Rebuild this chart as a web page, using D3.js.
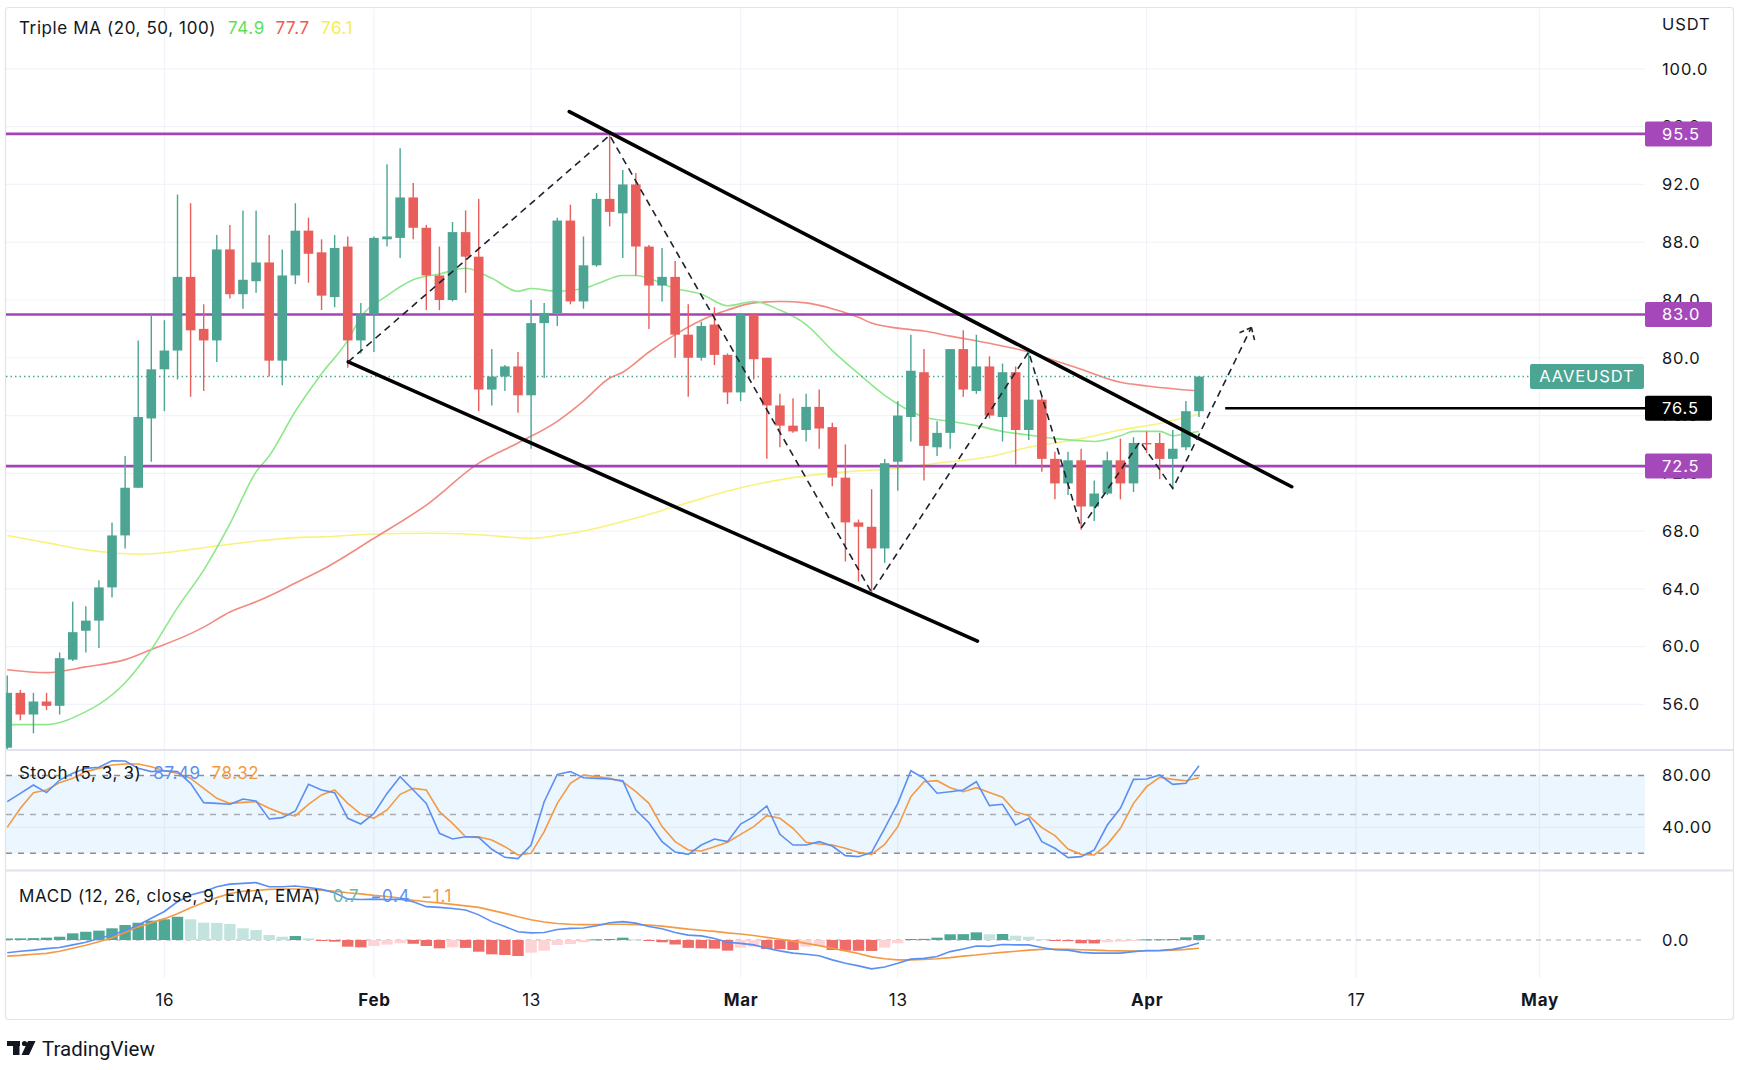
<!DOCTYPE html>
<html>
<head>
<meta charset="utf-8">
<script src="https://cdn.jsdelivr.net/npm/d3@7"></script>
<style>
  body { margin: 0; background: #fff; }
  svg { display: block; font-family: Inter, Roboto, "Noto Sans", sans-serif; }
</style>
</head>
<body>
<svg id="chart" width="1742" height="1070"></svg>
<script>
// ---- data ----
const firstDay = '2023-01-04', lastDay = '2023-04-05';

const opens = [
  53.0, 56.8, 55.3, 56.2, 55.9, 59.1, 61.1, 61.8, 64.1, 67.7, 71.0, 75.8, 79.2, 80.5, 85.6, 82.0, 81.2, 87.5, 84.4, 85.3, 86.6, 79.8, 85.7, 88.8, 87.3, 84.2, 87.7, 81.2,
  83.0, 88.2, 88.3, 91.1, 89.0, 85.7, 84.0, 88.7, 87.0, 77.8, 78.7, 79.4, 77.4, 82.4, 83.1, 89.5, 83.9, 86.4, 91.0, 90.0, 92.0, 87.7, 85.0, 85.6, 81.6, 80.0, 82.3, 80.2,
  77.6, 83.0, 80.0, 76.7, 75.3, 75.0, 76.6, 75.2, 71.7, 68.6, 68.3, 66.8, 72.8, 75.9, 79.0, 73.8, 74.8, 80.6, 77.7, 79.4, 75.9, 79.0, 75.0, 77.1, 73.0, 71.3, 72.9, 69.7, 70.6, 72.9, 71.3,
  74.1, 74.1, 73.0, 73.8, 76.3
];
const highs = [
  58.0, 57.0, 56.8, 56.8, 59.6, 63.1, 62.8, 64.6, 68.6, 73.2, 81.2, 83.0, 82.6, 91.3, 90.7, 83.7, 88.5, 89.2, 90.2, 90.2, 88.5, 87.5, 90.7, 89.7, 88.2, 88.5, 88.4, 83.8,
  88.4, 93.4, 94.5, 92.1, 89.2, 87.7, 89.4, 90.2, 91.0, 80.6, 79.5, 80.4, 84.0, 83.8, 89.7, 90.6, 88.4, 91.4, 95.5, 93.0, 92.8, 87.8, 87.6, 86.7, 83.7, 82.5, 83.5, 80.3,
  83.1, 83.1, 80.0, 77.5, 77.2, 77.5, 77.8, 75.5, 74.0, 68.8, 70.9, 73.0, 77.0, 81.6, 80.6, 75.6, 80.6, 81.9, 81.6, 80.1, 79.6, 79.4, 80.4, 77.3, 73.5, 73.5, 73.7, 71.5, 73.5, 74.4, 74.5,
  74.9, 74.8, 75.0, 77.0, 78.7
];
const lows = [
  52.5, 54.9, 54.0, 55.6, 55.3, 59.0, 59.6, 59.9, 63.4, 66.8, 71.0, 72.8, 76.3, 78.5, 77.3, 77.7, 79.7, 84.1, 83.4, 84.5, 78.7, 78.1, 85.1, 85.2, 83.3, 83.5, 79.3, 80.3,
  80.4, 87.7, 86.9, 88.2, 83.3, 83.3, 83.9, 84.5, 76.3, 76.7, 77.7, 76.2, 73.7, 78.6, 82.2, 83.7, 83.4, 86.3, 89.1, 86.9, 85.7, 82.0, 83.9, 80.0, 77.3, 79.8, 79.5, 76.8,
  77.0, 78.5, 73.0, 73.8, 74.8, 74.2, 73.7, 71.1, 65.9, 64.5, 63.7, 65.8, 70.8, 74.2, 71.5, 73.2, 73.7, 77.3, 77.5, 75.8, 74.2, 72.6, 74.3, 72.1, 70.2, 70.5, 68.1, 68.7, 70.5, 70.2, 70.7,
  73.4, 71.6, 71.0, 73.6, 75.9
];
const closes = [
  56.8, 55.3, 56.2, 55.9, 59.2, 61.0, 61.8, 64.1, 67.7, 71.0, 75.9, 79.2, 80.5, 85.6, 81.9, 81.2, 87.5, 84.4, 85.4, 86.6, 79.8, 85.7, 88.8, 87.2, 84.3, 87.6, 81.2, 83.0,
  88.3, 88.4, 91.1, 89.0, 85.7, 84.0, 88.7, 87.0, 77.8, 78.7, 79.4, 77.4, 82.4, 83.1, 89.5, 83.9, 86.4, 91.0, 90.1, 92.0, 87.7, 85.0, 85.6, 81.6, 80.0, 82.2, 80.2, 77.6,
  83.0, 79.9, 76.7, 75.3, 74.9, 76.6, 75.1, 71.7, 68.6, 68.3, 66.8, 72.7, 76.0, 79.1, 73.9, 74.8, 80.6, 77.8, 79.4, 76.0, 79.0, 75.0, 77.1, 73.0, 71.3, 72.9, 69.7, 70.6, 72.9, 71.3, 74.1,
  74.0, 73.0, 73.7, 76.3, 78.7
];

// moving averages, sampled points [date, value]
const ma20 = [
  ['2023-01-04', 54.6], ['2023-01-07', 54.6], ['2023-01-10', 55.5], ['2023-01-11', 56.0], ['2023-01-13', 57.5],
  ['2023-01-15', 59.8], ['2023-01-17', 62.7], ['2023-01-19', 65.3], ['2023-01-21', 68.5], ['2023-01-23', 72.1],
  ['2023-01-24', 73.2], ['2023-01-26', 76.3], ['2023-01-28', 78.9], ['2023-01-30', 81.2], ['2023-01-31', 82.8],
  ['2023-02-02', 84.3], ['2023-02-04', 85.4], ['2023-02-06', 85.8], ['2023-02-08', 86.2], ['2023-02-10', 85.5],
  ['2023-02-12', 84.6], ['2023-02-13', 84.8], ['2023-02-15', 84.6], ['2023-02-17', 84.8], ['2023-02-18', 85.1],
  ['2023-02-20', 85.7], ['2023-02-21', 85.7], ['2023-02-24', 84.8], ['2023-02-26', 84.4], ['2023-02-28', 83.6],
  ['2023-03-02', 83.9], ['2023-03-04', 83.3], ['2023-03-06', 82.3], ['2023-03-08', 80.5], ['2023-03-10', 78.9],
  ['2023-03-12', 77.4], ['2023-03-13', 76.8], ['2023-03-15', 75.9], ['2023-03-17', 75.6], ['2023-03-19', 75.3],
  ['2023-03-21', 74.9], ['2023-03-23', 74.65], ['2023-03-25', 74.4], ['2023-03-27', 74.25], ['2023-03-28', 74.2],
  ['2023-03-30', 74.6], ['2023-03-31', 74.9], ['2023-04-02', 74.9], ['2023-04-03', 74.6], ['2023-04-04', 74.75],
  ['2023-04-05', 74.9]
];
const ma50 = [
  ['2023-01-04', 58.4], ['2023-01-07', 58.2], ['2023-01-10', 58.6], ['2023-01-13', 59.1], ['2023-01-15', 59.8],
  ['2023-01-18', 60.9], ['2023-01-19', 61.35], ['2023-01-21', 62.4], ['2023-01-23', 63.1], ['2023-01-24', 63.5],
  ['2023-01-26', 64.4], ['2023-01-28', 65.3], ['2023-02-01', 67.5], ['2023-02-05', 69.8], ['2023-02-09', 72.7],
  ['2023-02-12', 74.1], ['2023-02-15', 75.6], ['2023-02-17', 77.0], ['2023-02-19', 78.6], ['2023-02-20', 79.0],
  ['2023-02-22', 80.4], ['2023-02-24', 81.6], ['2023-02-26', 82.6], ['2023-02-28', 83.3], ['2023-03-02', 83.8],
  ['2023-03-04', 83.9], ['2023-03-06', 83.8], ['2023-03-08', 83.4], ['2023-03-10', 82.8], ['2023-03-11', 82.4],
  ['2023-03-13', 82.05], ['2023-03-15', 81.85], ['2023-03-17', 81.5], ['2023-03-20', 81.0], ['2023-03-23', 80.4],
  ['2023-03-25', 79.8], ['2023-03-27', 79.2], ['2023-03-30', 78.3], ['2023-04-01', 78.05], ['2023-04-05', 77.7]
];
const ma100 = [
  ['2023-01-04', 67.7], ['2023-01-07', 67.2], ['2023-01-10', 66.7], ['2023-01-12', 66.5], ['2023-01-14', 66.4],
  ['2023-01-16', 66.5], ['2023-01-19', 66.85], ['2023-01-23', 67.3], ['2023-01-26', 67.55], ['2023-01-28', 67.6],
  ['2023-02-01', 67.8], ['2023-02-05', 67.85], ['2023-02-09', 67.75], ['2023-02-13', 67.5], ['2023-02-15', 67.7],
  ['2023-02-18', 68.2], ['2023-02-21', 68.9], ['2023-02-24', 69.7], ['2023-03-01', 71.0], ['2023-03-05', 71.7],
  ['2023-03-09', 72.1], ['2023-03-13', 72.35], ['2023-03-16', 72.7], ['2023-03-20', 73.15], ['2023-03-23', 73.8],
  ['2023-03-27', 74.4], ['2023-03-30', 75.0], ['2023-04-02', 75.45], ['2023-04-05', 76.1]
];

const stochK = [
  59.8, 66.2, 72.7, 66.8, 76.5, 81.7, 85.5, 86.3, 91.4, 91.2, 85.5, 83.0, 83.7, 83.0, 74.0, 59.1, 58.5, 57.8, 61.9, 60.3, 46.5, 47.5, 52.6, 73.2, 68.8, 66.8, 47.0, 42.6,
  50.8, 66.2, 79.1, 68.8, 58.5, 35.4, 31.0, 32.8, 32.3, 23.1, 16.9, 15.9, 26.4, 59.8, 80.9, 83.0, 78.3, 77.8, 77.3, 76.0, 53.4, 43.6, 29.0, 21.0, 19.2, 26.4, 31.0, 29.0,
  42.6, 48.3, 56.5, 34.6, 26.4, 26.4, 29.0, 25.6, 18.2, 17.4, 20.8, 39.3, 58.5, 83.7, 77.8, 66.3, 67.5, 68.8, 75.2, 56.8, 57.8, 41.8, 47.0, 29.0, 23.9, 16.7, 17.4, 22.6, 41.8, 54.7, 77.0,
  77.3, 80.4, 73.2, 74.0, 87.5
];
const stochD = [
  40.0, 54.7, 66.8, 68.8, 74.5, 77.8, 83.0, 85.5, 88.1, 88.9, 88.9, 86.8, 83.7, 81.7, 77.8, 70.1, 62.4, 58.5, 59.3, 59.8, 54.7, 50.8, 48.8, 57.8, 65.0, 68.8, 58.5, 50.3,
  47.0, 53.4, 65.5, 70.1, 68.8, 52.1, 43.1, 32.8, 32.8, 30.3, 25.1, 18.7, 20.0, 36.7, 58.5, 74.0, 80.4, 79.1, 77.8, 75.2, 67.5, 58.5, 40.6, 29.0, 22.6, 21.8, 25.1, 28.5,
  34.6, 40.5, 49.0, 47.0, 39.3, 28.5, 27.2, 26.4, 23.9, 20.8, 19.2, 26.9, 40.5, 63.7, 75.2, 76.0, 70.6, 67.5, 70.6, 66.8, 63.2, 52.1, 49.0, 39.8, 33.6, 23.3, 19.2, 18.7, 26.9, 39.3, 58.5,
  71.4, 78.6, 77.0, 76.0, 78.3
];

const macdLine = [
  -1.7, -1.5, -1.35, -1.15, -1.0, -0.65, -0.3, 0.2, 0.7, 1.25, 2.0, 2.9, 3.8, 5.1, 6.0, 6.45, 7.1, 7.45, 7.55, 7.65, 7.1, 7.1, 7.2, 7.0, 6.75, 6.3, 5.45, 5.4,
  5.45, 5.4, 5.45, 5.1, 4.45, 4.35, 4.2, 4.0, 3.35, 2.45, 1.8, 1.1, 0.95, 1.0, 1.4, 1.55, 1.6, 1.9, 2.3, 2.45, 2.25, 1.8, 1.5, 1.0, 0.65, 0.55, 0.2, -0.3,
  -0.45, -0.65, -1.1, -1.45, -1.75, -1.9, -2.1, -2.65, -3.1, -3.45, -3.85, -3.6, -3.1, -2.55, -2.45, -2.2, -1.55, -1.2, -0.8, -0.85, -0.6, -0.65, -0.65, -1.0, -1.3, -1.35, -1.65, -1.75, -1.75, -1.75, -1.55,
  -1.4, -1.4, -1.25, -0.9, -0.4
];
const signalLine = [
  -2.15, -2.05, -1.9, -1.78, -1.5, -1.1, -0.7, -0.22, 0.3, 1.0, 1.75, 2.3, 2.85, 3.5, 4.3, 5.0, 5.65, 6.2, 6.5, 6.6, 6.75, 6.8, 6.8, 6.75, 6.65, 6.5, 6.3, 6.15,
  5.95, 5.8, 5.6, 5.3, 5.1, 4.95, 4.75, 4.55, 4.35, 3.95, 3.55, 3.1, 2.7, 2.4, 2.2, 2.1, 2.05, 2.05, 2.1, 2.1, 2.05, 2.0, 1.85, 1.65, 1.45, 1.3, 1.15, 0.95,
  0.8, 0.6, 0.35, 0.1, -0.15, -0.45, -0.75, -1.1, -1.45, -1.8, -2.25, -2.5, -2.65, -2.65, -2.6, -2.5, -2.35, -2.15, -2.0, -1.8, -1.65, -1.5, -1.35, -1.25, -1.2, -1.25, -1.3, -1.35, -1.42, -1.45, -1.47,
  -1.45, -1.42, -1.35, -1.25, -1.1
];
const histogram = [
  0.2, 0.22, 0.25, 0.31, 0.44, 0.89, 1.1, 1.25, 1.56, 2.0, 2.3, 2.58, 2.76, 3.1, 2.76, 2.31, 2.28, 2.13, 1.56, 1.33, 0.67, 0.44, 0.53, 0.22, -0.1, -0.22, -0.89, -0.98,
  -0.8, -0.62, -0.44, -0.5, -0.8, -1.11, -0.98, -1.05, -1.56, -1.91, -2.0, -2.13, -1.69, -1.42, -0.67, -0.53, -0.3, 0.09, 0.13, 0.31, 0.09, -0.13, -0.3, -0.6, -1.05, -1.11, -1.15, -1.42,
  -1.02, -0.89, -1.2, -1.22, -1.33, -0.89, -0.8, -1.33, -1.42, -1.44, -1.46, -1.02, -0.44, 0.13, 0.15, 0.31, 0.76, 0.78, 1.02, 0.76, 0.8, 0.58, 0.44, 0.13, -0.13, -0.15, -0.44, -0.46, -0.31, -0.22, -0.13,
  0.09, 0.1, 0.13, 0.36, 0.67
];

// horizontal levels and drawings
const purpleLevels = [95.5, 83.0, 72.5];
const blackLevel = 76.5, blackLevelFrom = '2023-04-07';
const channelUpper = [['2023-02-15T22:00Z', 97.04], ['2023-04-12T02:00Z', 71.07]];
const channelLower = [['2023-01-30T01:00Z', 79.72], ['2023-03-19T02:00Z', 60.38]];
const zigzag = [
  ['2023-01-30T01:00Z', 79.72], ['2023-02-19', 95.4], ['2023-03-11', 63.75], ['2023-03-23', 80.4],
  ['2023-03-27', 68.2], ['2023-03-31T12:00Z', 74.2], ['2023-04-03', 70.95], ['2023-04-09', 82.1]
];

const priceTicks = [56, 60, 64, 68, 72, 76, 80, 84, 88, 92, 96, 100];
const dateTicks = [
  ['2023-01-16', '16', false], ['2023-02-01', 'Feb', true], ['2023-02-13', '13', false], ['2023-03-01', 'Mar', true],
  ['2023-03-13', '13', false], ['2023-04-01', 'Apr', true], ['2023-04-17', '17', false], ['2023-05-01', 'May', true]
];

// ---- layout ----
const X0 = 6, X1 = 1645;
const main = {top: 9, bottom: 749}, stoch = {top: 751, bottom: 869}, macd = {top: 872, bottom: 978};
const up = '#4ca593', down = '#e95e5a';
const blue = '#5b8ff2', orange = '#f39a45';
const txt = '#131722', grid = '#f0f3fa';
const axisFont = 16.5, axisSpacing = 0.9, legendFont = 17, legendSpacing = 0.6;

const days = d3.utcDay.range(new Date(firstDay), d3.utcDay.offset(new Date(lastDay), 1));
const candles = days.map((d, i) => ({date: d, o: opens[i], h: highs[i], l: lows[i], c: closes[i]}));

const x = d3.scaleUtc().domain([new Date('2023-01-16'), new Date('2023-04-01')]).range([164.4, 1146.6]);
const y = d3.scaleLinear().domain([56, 100]).range([704.4, 68.9]);
const yS = d3.scaleLinear().domain([20, 80]).range([853.3, 775.5]);
const yM = d3.scaleLinear().domain([-1, 1]).range([947.5, 932.5]);

const svg = d3.select('#chart');
svg.append('rect').attr('width', 1742).attr('height', 1070).attr('fill', '#fff');

const defs = svg.append('defs');
[['clipMain', main], ['clipStoch', stoch], ['clipMacd', macd]].forEach(([id, p]) => {
  defs.append('clipPath').attr('id', id).append('rect')
    .attr('x', X0).attr('y', p.top).attr('width', X1 - X0).attr('height', p.bottom - p.top);
});

// grid
svg.append('g').selectAll('line').data(priceTicks).join('line')
  .attr('x1', X0).attr('x2', X1).attr('y1', d => y(d)).attr('y2', d => y(d))
  .attr('stroke', grid).attr('stroke-width', 1.2);
svg.append('g').selectAll('line').data(dateTicks).join('line')
  .attr('x1', d => x(new Date(d[0]))).attr('x2', d => x(new Date(d[0])))
  .attr('y1', main.top).attr('y2', macd.bottom)
  .attr('stroke', grid).attr('stroke-width', 1.2);

// frame and pane separators
svg.append('rect').attr('x', 5.5).attr('y', 7.5).attr('width', 1728).attr('height', 1012)
  .attr('fill', 'none').attr('stroke', '#e0e3eb').attr('stroke-width', 1.2).attr('rx', 3);
[750, 870.5].forEach(v => {
  svg.append('line').attr('x1', 5.5).attr('x2', 1733.5).attr('y1', v).attr('y2', v)
    .attr('stroke', '#e0e3eb').attr('stroke-width', 2.2);
});

// ---- main pane ----
const gMain = svg.append('g').attr('clip-path', 'url(#clipMain)');

const maLine = d3.line().x(d => x(new Date(d[0]))).y(d => y(d[1])).curve(d3.curveMonotoneX);
gMain.append('path').datum(ma100).attr('d', maLine).attr('fill', 'none').attr('stroke', '#f8f27e').attr('stroke-width', 1.6);
gMain.append('path').datum(ma50).attr('d', maLine).attr('fill', 'none').attr('stroke', '#f28a80').attr('stroke-width', 1.6);
gMain.append('path').datum(ma20).attr('d', maLine).attr('fill', 'none').attr('stroke', '#8ee88b').attr('stroke-width', 1.6);

// last price dotted line
gMain.append('line').attr('x1', X0).attr('x2', 1530).attr('y1', y(closes[closes.length - 1])).attr('y2', y(closes[closes.length - 1]))
  .attr('stroke', up).attr('stroke-width', 1.4).attr('stroke-dasharray', '1.5,3');

// purple levels
gMain.selectAll('.lvl').data(purpleLevels).join('line').attr('class', 'lvl')
  .attr('x1', X0).attr('x2', X1).attr('y1', d => y(d)).attr('y2', d => y(d))
  .attr('stroke', '#a244b8').attr('stroke-width', 2.6);

// candles
const bw = 9.6;
const cg = gMain.append('g').selectAll('g').data(candles).join('g');
cg.append('line')
  .attr('x1', d => x(d.date)).attr('x2', d => x(d.date))
  .attr('y1', d => y(d.h)).attr('y2', d => y(d.l))
  .attr('stroke', d => d.c >= d.o ? up : down).attr('stroke-width', 1.4);
cg.append('rect')
  .attr('x', d => x(d.date) - bw / 2).attr('width', bw)
  .attr('y', d => y(Math.max(d.o, d.c)))
  .attr('height', d => Math.max(1.2, Math.abs(y(d.o) - y(d.c))))
  .attr('fill', d => d.c >= d.o ? up : down);

// channel and zigzag
const pLine = d3.line().x(d => x(new Date(d[0]))).y(d => y(d[1]));
[channelUpper, channelLower].forEach(seg => {
  gMain.append('path').datum(seg).attr('d', pLine).attr('fill', 'none')
    .attr('stroke', '#000').attr('stroke-width', 3.6).attr('stroke-linecap', 'round');
});
gMain.append('path').datum(zigzag).attr('d', pLine).attr('fill', 'none')
  .attr('stroke', '#1e222d').attr('stroke-width', 1.6).attr('stroke-dasharray', '7,5');
// arrow head on the last zigzag leg
{
  const a = zigzag[zigzag.length - 2], b = zigzag[zigzag.length - 1];
  const ax = x(new Date(a[0])), ay = y(a[1]), bx = x(new Date(b[0])), by = y(b[1]);
  const len = Math.hypot(bx - ax, by - ay), ux = (ax - bx) / len, uy = (ay - by) / len;
  [0.7, -0.7].forEach(t => {
    const wx = ux * Math.cos(t) - uy * Math.sin(t), wy = ux * Math.sin(t) + uy * Math.cos(t);
    gMain.append('line').attr('x1', bx).attr('y1', by).attr('x2', bx + wx * 13).attr('y2', by + wy * 13)
      .attr('stroke', '#1e222d').attr('stroke-width', 1.6).attr('stroke-dasharray', '5,3');
  });
}
gMain.append('line').attr('x1', x(new Date(blackLevelFrom))).attr('x2', X1)
  .attr('y1', y(blackLevel)).attr('y2', y(blackLevel))
  .attr('stroke', '#000').attr('stroke-width', 2.6);

// price axis
const yAxisG = svg.append('g').attr('transform', `translate(${X1},0)`)
  .call(d3.axisRight(y).tickValues(priceTicks).tickFormat(d3.format('.1f')).tickSize(0).tickPadding(17))
  .call(g => g.select('.domain').remove());
yAxisG.selectAll('text').attr('font-size', axisFont).attr('letter-spacing', axisSpacing)
  .attr('fill', txt).attr('font-family', 'Inter, Roboto, sans-serif');
svg.append('text').attr('x', 1662).attr('y', 24).attr('dy', '0.35em').attr('font-size', axisFont)
  .attr('letter-spacing', axisSpacing).attr('fill', txt).text('USDT');

// level labels
const tag = (v, fill) => {
  const g = svg.append('g');
  g.append('rect').attr('x', X1).attr('y', y(v) - 12.5).attr('width', 67).attr('height', 25).attr('rx', 2).attr('fill', fill);
  g.append('text').attr('x', 1662).attr('y', y(v)).attr('dy', '0.35em').attr('font-size', axisFont)
    .attr('letter-spacing', axisSpacing).attr('fill', '#fff').text(v.toFixed(1));
};
purpleLevels.forEach(v => tag(v, '#a548ba'));
tag(blackLevel, '#000');
{
  const cy = y(closes[closes.length - 1]);
  svg.append('rect').attr('x', 1530).attr('y', cy - 12.5).attr('width', 114).attr('height', 25).attr('rx', 2).attr('fill', up);
  svg.append('text').attr('x', 1587).attr('y', cy).attr('dy', '0.35em').attr('text-anchor', 'middle')
    .attr('font-size', 16.5).attr('letter-spacing', 0.9).attr('fill', '#fff').text('AAVEUSDT');
}

// legend main
{
  const t = svg.append('text').attr('x', 19).attr('y', 28).attr('dy', '0.35em').attr('font-size', legendFont)
    .attr('letter-spacing', legendSpacing).attr('fill', txt);
  t.append('tspan').text('Triple MA (20, 50, 100)');
  t.append('tspan').attr('dx', 12).attr('fill', '#5fe05c').text('74.9');
  t.append('tspan').attr('dx', 11).attr('fill', '#f1584c').text('77.7');
  t.append('tspan').attr('dx', 11).attr('fill', '#f6ee52').text('76.1');
}

// ---- stochastic pane ----
const gS = svg.append('g').attr('clip-path', 'url(#clipStoch)');
gS.append('rect').attr('x', X0).attr('width', X1 - X0).attr('y', yS(80)).attr('height', yS(20) - yS(80))
  .attr('fill', '#2196f3').attr('fill-opacity', 0.085);
gS.append('line').attr('x1', X0).attr('x2', X1).attr('y1', yS(40)).attr('y2', yS(40)).attr('stroke', '#e4ebf5').attr('stroke-width', 1.2);
[80, 50, 20].forEach(v => {
  gS.append('line').attr('x1', X0).attr('x2', X1).attr('y1', yS(v)).attr('y2', yS(v))
    .attr('stroke', v === 50 ? '#a8abb3' : '#8c8f98').attr('stroke-width', 1.5).attr('stroke-dasharray', '6,6');
});
const sLine = arr => d3.line().x((d, i) => x(days[i])).y(d => yS(d))(arr);
gS.append('path').attr('d', sLine(stochD)).attr('fill', 'none').attr('stroke', orange).attr('stroke-width', 1.6);
gS.append('path').attr('d', sLine(stochK)).attr('fill', 'none').attr('stroke', blue).attr('stroke-width', 1.6);
[80, 40].forEach(v => {
  svg.append('text').attr('x', 1662).attr('y', yS(v)).attr('dy', '0.35em').attr('font-size', axisFont)
    .attr('letter-spacing', axisSpacing).attr('fill', txt).text(v.toFixed(2));
});
{
  const t = svg.append('text').attr('x', 19).attr('y', 773).attr('dy', '0.35em').attr('font-size', legendFont)
    .attr('letter-spacing', legendSpacing).attr('fill', txt);
  t.append('tspan').text('Stoch (5, 3, 3)');
  t.append('tspan').attr('dx', 12).attr('fill', blue).text('87.49');
  t.append('tspan').attr('dx', 11).attr('fill', orange).text('78.32');
}

// ---- MACD pane ----
const gM = svg.append('g').attr('clip-path', 'url(#clipMacd)');
gM.append('line').attr('x1', X0).attr('x2', X1).attr('y1', yM(0)).attr('y2', yM(0))
  .attr('stroke', '#a8abb3').attr('stroke-width', 1.2).attr('stroke-dasharray', '5,5');
gM.selectAll('.bar').data(histogram).join('rect').attr('class', 'bar')
  .attr('x', (d, i) => x(days[i]) - 5.7).attr('width', 11.4)
  .attr('y', d => Math.min(yM(d), yM(0)))
  .attr('height', d => Math.max(1, Math.abs(yM(d) - yM(0))))
  .attr('fill', (d, i) => {
    const prev = i > 0 ? histogram[i - 1] : d;
    if (d >= 0) return d >= prev ? '#4ea896' : '#c3e4de';
    return d < prev ? '#ef6c69' : '#fdd3d6';
  });
const mLine = arr => d3.line().x((d, i) => x(days[i])).y(d => yM(d))(arr);
gM.append('path').attr('d', mLine(signalLine)).attr('fill', 'none').attr('stroke', orange).attr('stroke-width', 1.6);
gM.append('path').attr('d', mLine(macdLine)).attr('fill', 'none').attr('stroke', blue).attr('stroke-width', 1.6);
svg.append('text').attr('x', 1662).attr('y', yM(0)).attr('dy', '0.35em').attr('font-size', axisFont)
  .attr('letter-spacing', axisSpacing).attr('fill', txt).text('0.0');
{
  const t = svg.append('text').attr('x', 19).attr('y', 896).attr('dy', '0.35em').attr('font-size', legendFont)
    .attr('letter-spacing', legendSpacing).attr('fill', txt);
  t.append('tspan').text('MACD (12, 26, close, 9, EMA, EMA)');
  t.append('tspan').attr('dx', 12).attr('fill', '#66b8a8').text('0.7');
  t.append('tspan').attr('dx', 11).attr('fill', blue).text('\u22120.4');
  t.append('tspan').attr('dx', 11).attr('fill', orange).text('\u22121.1');
}

// ---- time axis ----
const xAxisG = svg.append('g').attr('transform', 'translate(0,994)')
  .call(d3.axisBottom(x).tickValues(dateTicks.map(d => new Date(d[0])))
    .tickFormat((d, i) => dateTicks[i][1]).tickSize(0).tickPadding(0))
  .call(g => g.select('.domain').remove());
xAxisG.selectAll('text').attr('font-size', 17).attr('letter-spacing', 0.7).attr('fill', txt)
  .attr('font-family', 'Inter, Roboto, sans-serif')
  .attr('font-weight', (d, i) => dateTicks[i][2] ? 700 : 400);

// ---- TradingView mark ----
{
  const g = svg.append('g').attr('fill', txt);
  g.append('rect').attr('x', 7).attr('y', 1041).attr('width', 13).attr('height', 5);
  g.append('rect').attr('x', 13).attr('y', 1041).attr('width', 6.5).attr('height', 14);
  g.append('circle').attr('cx', 24.5).attr('cy', 1043.5).attr('r', 2.6);
  g.append('path').attr('d', 'M21.5,1055 L28,1041 L35.5,1041 L29,1055 Z');
  svg.append('text').attr('x', 42).attr('y', 1049).attr('dy', '0.35em').attr('font-size', 20.5)
    .attr('fill', txt).attr('font-family', 'Roboto, Inter, sans-serif').text('TradingView');
}
</script>
</body>
</html>
